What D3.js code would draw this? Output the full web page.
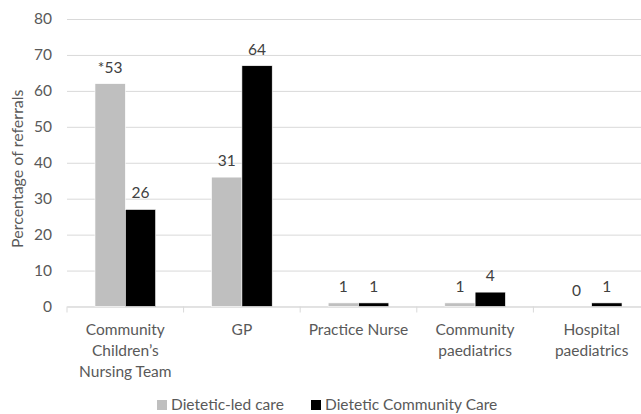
<!DOCTYPE html>
<html>
<head>
<meta charset="utf-8">
<script src="https://cdn.jsdelivr.net/npm/d3@7"></script>
<style>
  html, body { margin: 0; padding: 0; background: #fff; }
  svg { display: block; font-family: Lato, "Open Sans", sans-serif; }
</style>
</head>
<body>
<svg id="chart" width="641" height="414"></svg>
<script>
// Referral sources
const categories = [
  ["Community", "Children\u2019s", "Nursing Team"],
  ["GP"],
  ["Practice Nurse"],
  ["Community", "paediatrics"],
  ["Hospital", "paediatrics"]
];
const seriesNames = ["Dietetic-led care", "Dietetic Community Care"];
// Percentage of referrals (bar heights)
const dieteticLedPct = [62, 36, 1, 1, 0];
const communityCarePct = [27, 67, 1, 4, 1];
// Number of referrals (labels above bars)
const dieteticLedN = ["*53", "31", "1", "1", "0"];
const communityCareN = ["26", "64", "1", "4", "1"];
const yTicks = [0, 10, 20, 30, 40, 50, 60, 70, 80];

const colors = ["#bfbfbf", "#000000"];
const textColor = "#595959";
const fontSize = 15.5;

const svg = d3.select("#chart");
const plot = { left: 67, right: 650, top: 19, bottom: 306.5 };

const x = d3.scaleBand()
  .domain(d3.range(categories.length))
  .range([plot.left, plot.right])
  .padding(0);

const x1 = d3.scaleBand()
  .domain([0, 1])
  .range([x.bandwidth() * 0.24, x.bandwidth() * 0.76])
  .padding(0);

const y = d3.scaleLinear().domain([0, 80]).range([plot.bottom, plot.top]);

// Gridlines and y tick labels
const yAxis = d3.axisLeft(y).tickValues(yTicks).tickSize(-(plot.right - plot.left)).tickPadding(15);
const gy = svg.append("g").attr("transform", `translate(${plot.left},0)`).call(yAxis);
gy.select(".domain").remove();
gy.selectAll(".tick line").attr("stroke", "#d9d9d9").attr("stroke-width", 1);
gy.selectAll(".tick text")
  .attr("fill", textColor)
  .attr("font-size", fontSize)
  .attr("font-family", "Lato, sans-serif");

// Category axis
const xAxis = d3.axisBottom(x).tickSize(0).tickFormat("");
const gx = svg.append("g").attr("transform", `translate(0,${plot.bottom})`).call(xAxis);
gx.select(".domain").attr("stroke", "#d9d9d9");
gx.selectAll(".tick").remove();
// Boundary tick marks between categories
gx.selectAll("line.sep")
  .data(d3.range(categories.length + 1))
  .join("line")
  .attr("class", "sep")
  .attr("x1", i => plot.left + i * x.step())
  .attr("x2", i => plot.left + i * x.step())
  .attr("y1", 0).attr("y2", 6)
  .attr("stroke", "#d9d9d9");

// Category labels
const catLabels = svg.append("g");
categories.forEach((lines, i) => {
  const cx = x(i) + x.bandwidth() / 2;
  const t = catLabels.append("text")
    .attr("x", cx)
    .attr("y", 335)
    .attr("text-anchor", "middle")
    .attr("fill", textColor)
    .attr("font-size", fontSize);
  lines.forEach((ln, j) => {
    t.append("tspan").attr("x", cx).attr("dy", j === 0 ? 0 : 21).text(ln);
  });
});

// Bars
const seriesPct = [dieteticLedPct, communityCarePct];
const seriesN = [dieteticLedN, communityCareN];
const rows = [];
categories.forEach((c, i) => {
  [0, 1].forEach(s => rows.push({ i, s, v: seriesPct[s][i], n: seriesN[s][i] }));
});

svg.append("g").selectAll("rect")
  .data(rows)
  .join("rect")
  .attr("x", d => x(d.i) + x1(d.s))
  .attr("width", x1.bandwidth())
  .attr("y", d => y(d.v))
  .attr("height", d => y(0) - y(d.v))
  .attr("fill", d => colors[d.s])
  .attr("stroke", "#fff")
  .attr("stroke-width", 0.6);

// Value labels
svg.append("g").selectAll("text")
  .data(rows)
  .join("text")
  .attr("x", d => x(d.i) + x1(d.s) + x1.bandwidth() / 2)
  .attr("y", d => y(d.v) - 11)
  .attr("text-anchor", "middle")
  .attr("fill", "#404040")
  .attr("font-size", fontSize)
  .text(d => d.n);

// Y-axis title
svg.append("text")
  .attr("transform", `translate(23,${(plot.top + plot.bottom) / 2 + 6}) rotate(-90)`)
  .attr("text-anchor", "middle")
  .attr("fill", textColor)
  .attr("font-size", 16)
  .text("Percentage of referrals");

// Legend
const legend = svg.append("g").attr("transform", "translate(0,410)");
const legendX = [157, 311];
seriesNames.forEach((name, s) => {
  legend.append("rect")
    .attr("x", legendX[s]).attr("y", -10)
    .attr("width", 10).attr("height", 10)
    .attr("fill", colors[s]);
  legend.append("text")
    .attr("x", legendX[s] + 14).attr("y", 0)
    .attr("fill", textColor)
    .attr("font-size", fontSize)
    .text(name);
});
</script>
</body>
</html>
